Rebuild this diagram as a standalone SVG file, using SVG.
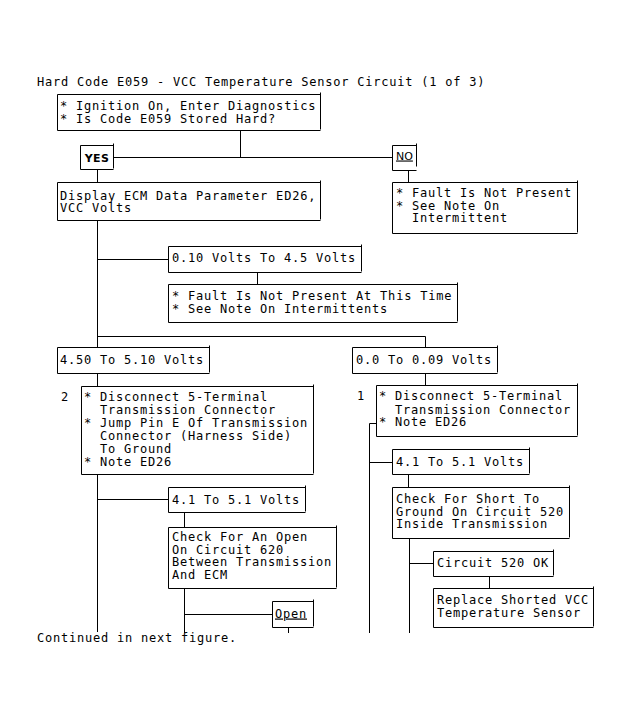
<svg xmlns="http://www.w3.org/2000/svg" width="631" height="721" viewBox="0 0 631 721">
<style>
text{font-family:"DejaVu Sans Mono","Liberation Mono",monospace;font-size:12px;letter-spacing:0.78px;fill:#000}
.box{fill:#fff;stroke:#000;stroke-width:1}
.con{fill:none;stroke:#000;stroke-width:1}
.yes{font-family:"DejaVu Sans","Liberation Sans",sans-serif;font-weight:bold;font-size:11px;letter-spacing:0.3px}
.u{text-decoration:underline}
.no{font-family:"DejaVu Sans","Liberation Sans",sans-serif;font-size:11px;letter-spacing:0}
</style>
<rect width="631" height="721" fill="#fff"/>
<text x="37" y="85.5">Hard Code E059 - VCC Temperature Sensor Circuit (1 of 3)</text>
<g id="connectors">
<path class="con" d="M240.5 130.5V157.5M113.5 157.5H392.5M97.5 169.5V182.5M408.5 170.5V182.5M97.5 220.5V632M97.5 259.5H168.5M257.5 272.5V284.5M97.5 336.5H425.5V347.5M97.5 499.5H168.5M184.5 512.5V527.5M184.5 588.5V633M184.5 614.5H272.5M288.5 627.5V633M425.5 373.5V385.5M376.5 423.5H369.5V633M369.5 462.5H392.5M408.5 474.5V487.5M409.5 538.5V633M409.5 563.5H433.5M489.5 576.5V588.5"/>
</g>
<g id="n-start">
<path class="box" d="M320.5 92.5V129.5M320.5 130.5H57.5V94.5H320.5"/>
<text x="60" y="110">* Ignition On, Enter Diagnostics</text>
<text x="60" y="123">* Is Code E059 Stored Hard?</text>
</g>
<g id="n-yes">
<path class="box" d="M113.5 143.5V168.5M113.5 169.5H80.5V145.5H113.5"/>
<text class="yes" x="97" y="161.5" text-anchor="middle">YES</text>
</g>
<g id="n-no">
<path class="box" d="M416.5 143.5V166.5M416.5 170.5H392.5V145.5H416.5"/>
<text class="no u" x="396" y="159.5">NO</text>
</g>
<g id="n-display">
<path class="box" d="M320.5 180.5V219.5M320.5 220.5H57.5V182.5H320.5"/>
<text x="60" y="199.5">Display ECM Data Parameter ED26,</text>
<text x="60" y="212">VCC Volts</text>
</g>
<g id="n-nofault">
<path class="box" d="M577.5 180.5V232.5M577.5 233.5H392.5V182.5H577.5"/>
<text x="396" y="197">* Fault Is Not Present</text>
<text x="396" y="209.5">* See Note On</text>
<text x="412" y="222">Intermittent</text>
</g>
<g id="n-v010">
<path class="box" d="M361.5 244.5V271.5M361.5 272.5H168.5V246.5H361.5"/>
<text x="172" y="262">0.10 Volts To 4.5 Volts</text>
</g>
<g id="n-fault2">
<path class="box" d="M457.5 282.5V321.5M457.5 322.5H168.5V284.5H457.5"/>
<text x="172" y="299.5">* Fault Is Not Present At This Time</text>
<text x="172" y="312.5">* See Note On Intermittents</text>
</g>
<g id="n-v450">
<path class="box" d="M209.5 345.5V372.5M209.5 373.5H57.5V347.5H209.5"/>
<text x="60" y="363.5">4.50 To 5.10 Volts</text>
</g>
<g id="n-v00">
<path class="box" d="M497.5 345.5V372.5M497.5 373.5H352.5V347.5H497.5"/>
<text x="356" y="363.5">0.0 To 0.09 Volts</text>
</g>
<g id="n-step2">
<text x="61" y="401">2</text>
<path class="box" d="M313.5 384.5V473.5M313.5 474.5H81.5V386.5H313.5"/>
<text x="84" y="401">* Disconnect 5-Terminal</text>
<text x="100" y="413.9">Transmission Connector</text>
<text x="84" y="426.8">* Jump Pin E Of Transmission</text>
<text x="100" y="439.7">Connector (Harness Side)</text>
<text x="100" y="452.6">To Ground</text>
<text x="84" y="465.5">* Note ED26</text>
</g>
<g id="n-v41l">
<path class="box" d="M305.5 485.5V511.5M305.5 512.5H168.5V487.5H305.5"/>
<text x="172" y="503.5">4.1 To 5.1 Volts</text>
</g>
<g id="n-checkopen">
<path class="box" d="M336.5 525.5V587.5M336.5 588.5H168.5V527.5H336.5"/>
<text x="172" y="541">Check For An Open</text>
<text x="172" y="553.5">On Circuit 620</text>
<text x="172" y="566">Between Transmission</text>
<text x="172" y="578.5">And ECM</text>
</g>
<g id="n-open">
<path class="box" d="M313.5 599.5V626.5M313.5 627.5H272.5V601.5H313.5"/>
<text class="u" x="275" y="617.5">Open</text>
</g>
<g id="n-step1">
<text x="357" y="400">1</text>
<path class="box" d="M577.5 383.5V435.5M577.5 436.5H376.5V385.5H577.5"/>
<text x="379" y="400">* Disconnect 5-Terminal</text>
<text x="395" y="413.5">Transmission Connector</text>
<text x="379" y="426">* Note ED26</text>
</g>
<g id="n-v41r">
<path class="box" d="M529.5 447.5V473.5M529.5 474.5H392.5V449.5H529.5"/>
<text x="396" y="465.5">4.1 To 5.1 Volts</text>
</g>
<g id="n-short">
<path class="box" d="M569.5 485.5V537.5M569.5 538.5H392.5V487.5H569.5"/>
<text x="396" y="503">Check For Short To</text>
<text x="396" y="515.5">Ground On Circuit 520</text>
<text x="396" y="528">Inside Transmission</text>
</g>
<g id="n-ok">
<path class="box" d="M553.5 549.5V575.5M553.5 576.5H433.5V551.5H553.5"/>
<text x="437" y="567">Circuit 520 OK</text>
</g>
<g id="n-replace">
<path class="box" d="M593.5 586.5V626.5M593.5 627.5H433.5V588.5H593.5"/>
<text x="437" y="604">Replace Shorted VCC</text>
<text x="437" y="616.5">Temperature Sensor</text>
</g>
<text x="37" y="642">Continued in next figure.</text>
</svg>
